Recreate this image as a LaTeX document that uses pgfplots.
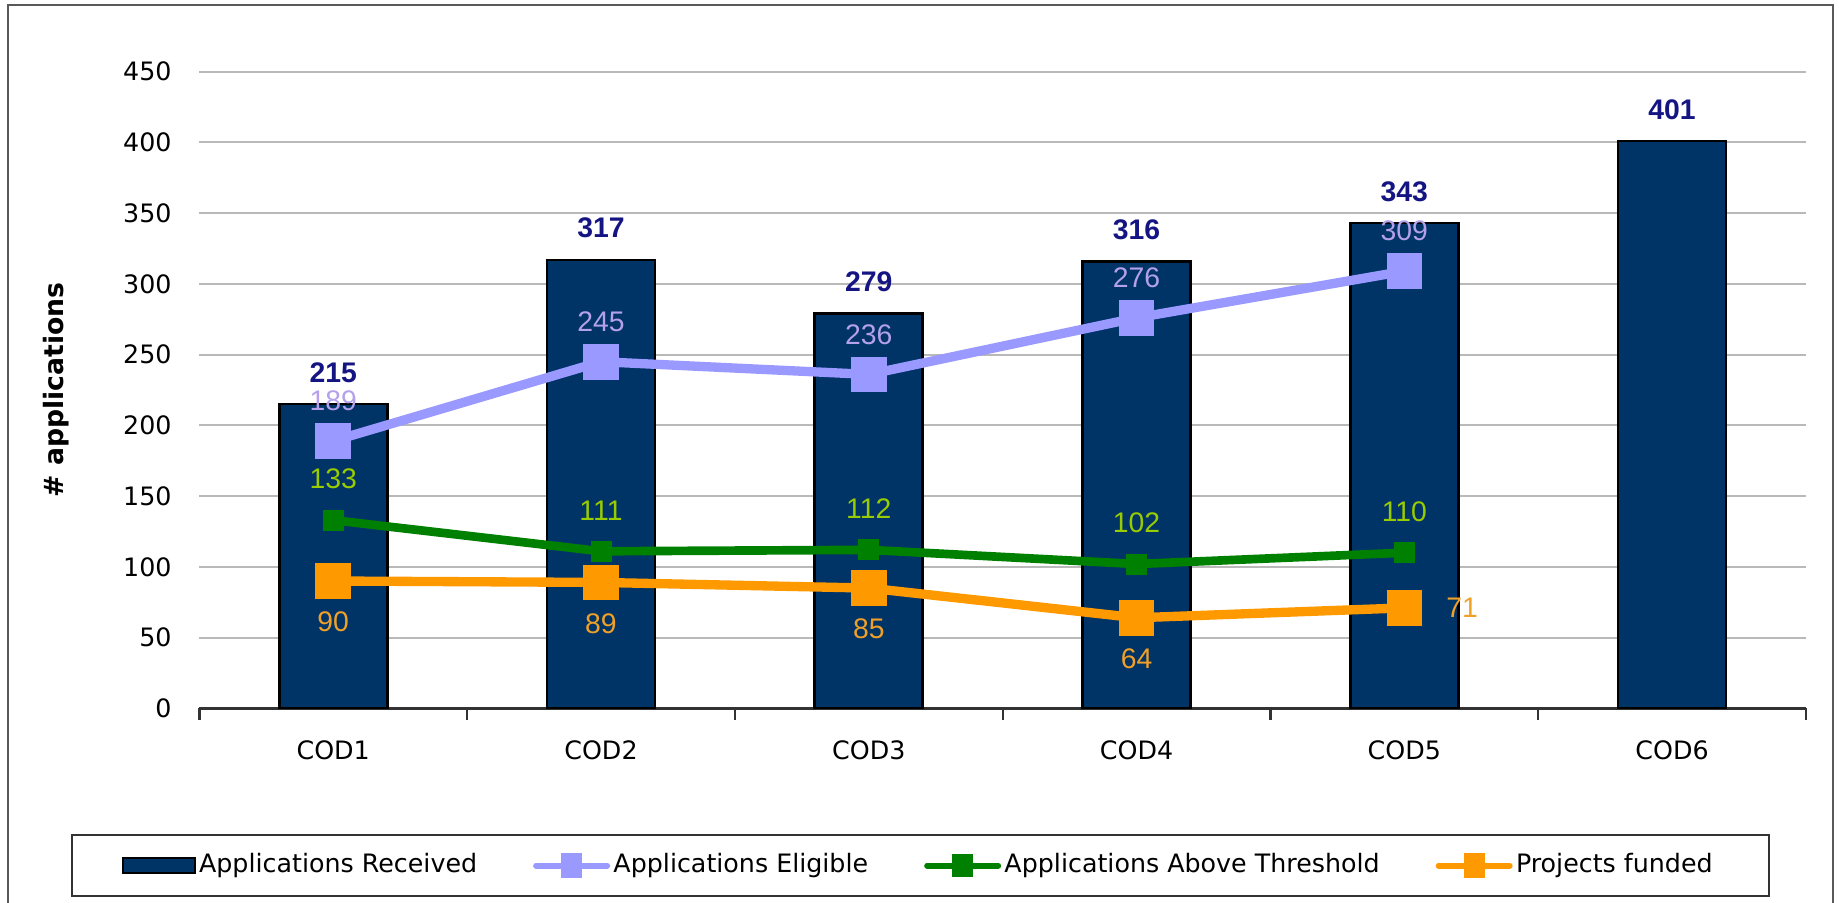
\documentclass[border=0pt]{standalone}
\usepackage{pgfplots}
\pgfplotsset{compat=1.18}
\usepackage{fontspec}
\setmainfont{DejaVu Sans}
\newfontfamily\arialfont{Liberation Sans}

\definecolor{barnavy}{RGB}{0,51,102}
\definecolor{barlab}{RGB}{20,20,130}
\definecolor{elig}{RGB}{153,153,255}
\definecolor{eliglab}{RGB}{180,160,235}
\definecolor{thr}{RGB}{0,128,0}
\definecolor{thrlab}{RGB}{153,204,0}
\definecolor{fund}{RGB}{255,153,0}
\definecolor{fundlab}{RGB}{240,160,40}

\begin{document}
\begin{tikzpicture}[x=1pt,y=1pt]
\useasboundingbox (0,0) rectangle (551.7,270.6);
% outer frame (bottom edge is cut off in the reference)
\draw[black!65, line width=0.6pt] (2.4,-2) -- (2.4,269.1) -- (549.9,269.1) -- (549.9,-2);

\begin{axis}[
  at={(59.8pt,58.1pt)}, anchor=south west,
  scale only axis, width=482pt, height=191pt,
  xmin=-0.5, xmax=5.5, ymin=0, ymax=450,
  axis x line*=bottom, axis y line*=left,
  y axis line style={draw=none},
  x axis line style={-, draw=black!80, line width=0.7pt},
  /pgf/number format/assume math mode=true,
  tick label style={font=\fontsize{7.6}{9}\selectfont},
  ytick={0,50,...,450},
  ymajorgrids, grid style={gray!55, line width=0.6pt},
  major tick length=0pt,
  tick align=outside,
  ytick style={draw=none},
  yticklabel style={xshift=-4.8pt},
  xtick={0,...,5},
  xticklabels={COD1,COD2,COD3,COD4,COD5,COD6},
  xticklabel style={anchor=center, yshift=-12.7pt},
  minor xtick={-0.5,0.5,...,5.5},
  minor tick length=3.6pt,
  minor x tick style={draw=black!80, line width=0.7pt},
  ylabel={\# applications},
  ylabel style={font=\bfseries\fontsize{8}{10}\selectfont,
    at={(axis description cs:-0.0892,0.5)}, anchor=center},
  legend columns=4,
  legend style={at={(axis description cs:0.4489,-0.2469)}, anchor=center,
    draw=black!80, line width=0.6pt, inner xsep=15pt, inner ysep=3.5pt,
    font=\fontsize{7.6}{9}\selectfont,
    /tikz/every odd column/.append style={column sep=-1pt},
    /tikz/every even column/.append style={column sep=14.8pt}},
  legend cell align=left,
]

% applications received
\addplot[ybar, bar width=0.403, fill=barnavy, draw=black, line width=0.8pt,
  nodes near coords,
  every node near coord/.style={font=\arialfont\bfseries\fontsize{8.5}{10}\selectfont,
    text=barlab, anchor=center, yshift=9.5pt},
  legend image code/.code={\draw[fill=barnavy, draw=black, line width=0.6pt]
    (0pt,-2.25pt) rectangle (21.6pt,2.25pt);}]
  coordinates {(0,215) (1,317) (2,279) (3,316) (4,343) (5,401)};
\addlegendentry{Applications Received}

% applications eligible
\addplot[elig, line width=2.8pt, mark=square*, mark size=5.2pt,
  mark options={line width=0pt},
  nodes near coords,
  every node near coord/.style={font=\arialfont\fontsize{8.5}{10}\selectfont,
    text=eliglab, anchor=center, yshift=12pt},
  legend image code/.code={\draw[elig, line width=1.8pt, line cap=round] (0.9pt,0pt) -- (22.2pt,0pt);
    \fill[elig] (9.75pt,-2.25pt) rectangle (13.35pt,2.25pt);}]
  coordinates {(0,189) (1,245) (2,236) (3,276) (4,309)};
\addlegendentry{Applications Eligible}

% applications above threshold
\addplot[thr, line width=2.6pt, mark=square*, mark size=3pt,
  mark options={line width=0pt},
  nodes near coords,
  every node near coord/.style={font=\arialfont\fontsize{8.5}{10}\selectfont,
    text=thrlab, anchor=center, yshift=12.3pt},
  legend image code/.code={\draw[thr, line width=1.8pt, line cap=round] (0.9pt,0pt) -- (22.2pt,0pt);
    \fill[thr] (9.75pt,-2.25pt) rectangle (13.35pt,2.25pt);}]
  coordinates {(0,133) (1,111) (2,112) (3,102) (4,110)};
\addlegendentry{Applications Above Threshold}

% projects funded
\addplot[fund, line width=2.8pt, mark=square*, mark size=5.2pt,
  mark options={line width=0pt},
  legend image code/.code={\draw[fund, line width=1.8pt, line cap=round] (0.9pt,0pt) -- (22.2pt,0pt);
    \fill[fund] (9.75pt,-2.25pt) rectangle (13.35pt,2.25pt);}]
  coordinates {(0,90) (1,89) (2,85) (3,64) (4,71)};
\addlegendentry{Projects funded}

% labels of projects funded: below for COD1-COD4, right for COD5
\addplot[draw=none, mark=none, forget plot,
  nodes near coords,
  every node near coord/.style={font=\arialfont\fontsize{8.5}{10}\selectfont,
    text=fundlab, anchor=center, yshift=-12.3pt}]
  coordinates {(0,90) (1,89) (2,85) (3,64)};
\addplot[draw=none, mark=none, forget plot,
  nodes near coords,
  every node near coord/.style={font=\arialfont\fontsize{8.5}{10}\selectfont,
    text=fundlab, anchor=center, xshift=17.3pt}]
  coordinates {(4,71)};

\end{axis}
\end{tikzpicture}
\end{document}
